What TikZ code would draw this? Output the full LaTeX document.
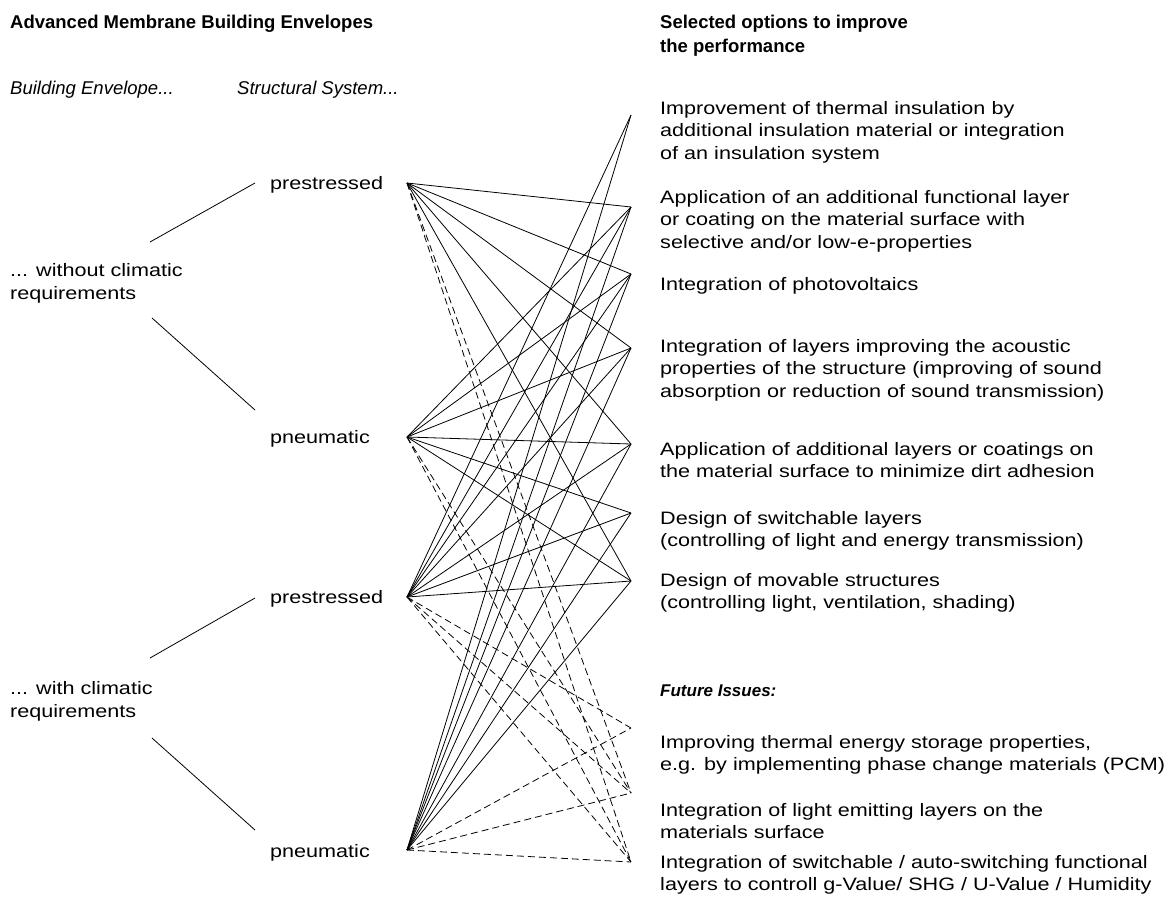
\documentclass[tikz,border=0pt]{standalone}
\usepackage{fontspec}
\setmainfont{Liberation Sans}
\newfontfamily\widefont[FakeStretch=1.2]{Liberation Sans}
\begin{document}
\begin{tikzpicture}[x=1pt,y=-1pt,
		txt/.style={anchor=base west,inner sep=0pt,align=left,font=\widefont\fontsize{18}{22.7}\selectfont},
		head/.style={txt,font=\fontsize{18.5}{24}\selectfont\bfseries},
		sub/.style={txt,font=\fontsize{18.5}{22.7}\selectfont\itshape},
		link/.style={line width=0.8pt},
		future/.style={line width=0.8pt,dash pattern=on 7pt off 4pt}]
		\useasboundingbox (0,0) rectangle (1172,897);
		
		% headings (base = last line)
		\node[head] (title) at (10,28) {Advanced Membrane Building Envelopes};
		\node[head] (sel) at (660,52) {Selected options to improve\\the performance};
		\node[sub] (env) at (10,94) {Building Envelope...};
		\node[sub] (sys) at (237,94) {Structural System...};
		
		% envelopes and structural systems
		\node[txt] (wo) at (10,299) {... without climatic\\requirements};
		\node[txt] (wi) at (10,717) {... with climatic\\requirements};
		\node[txt] (ps1) at (270,189) {prestressed};
		\node[txt] (pn1) at (270,443) {pneumatic};
		\node[txt] (ps2) at (270,603) {prestressed};
		\node[txt] (pn2) at (270,857) {pneumatic};
		
		\coordinate (wo1) at (150,242); \coordinate (wo2) at (152,318);
		\coordinate (wi1) at (150,658); \coordinate (wi2) at (152,738);
		\coordinate (to1) at (255,183); \coordinate (to2) at (255,410);
		\coordinate (to3) at (255,598); \coordinate (to4) at (255,830);
		\draw[link] (wo1) -- (to1);
		\draw[link] (wo2) -- (to2);
		\draw[link] (wi1) -- (to3);
		\draw[link] (wi2) -- (to4);
		
		% options
		\node[txt] (o1) at (660,159.4) {Improvement of thermal insulation by\\additional insulation material or integration\\of an insulation system};
		\node[txt] (o2) at (660,248.4) {Application of an additional functional layer\\or coating on the material surface with\\selective and/or low-e-properties};
		\node[txt] (o3) at (660,290) {Integration of photovoltaics};
		\node[txt] (o4) at (660,397.4) {Integration of layers improving the acoustic\\properties of the structure (improving of sound\\absorption or reduction of sound transmission)};
		\node[txt] (o5) at (660,477.7) {Application of additional layers or coatings on\\the material surface to minimize dirt adhesion};
		\node[txt] (o6) at (660,546.7) {Design of switchable layers\\(controlling of light and energy transmission)};
		\node[txt] (o7) at (660,608.7) {Design of movable structures\\(controlling light, ventilation, shading)};
		\node[txt,font=\fontsize{17}{22.7}\selectfont\bfseries\itshape] (fut) at (660,696) {Future Issues:};
		\node[txt] (f1) at (660,770.7) {Improving thermal energy storage properties,\\e.g. by implementing phase change materials (PCM)};
		\node[txt] (f2) at (660,838.7) {Integration of light emitting layers on the\\materials surface};
		\node[txt] (f3) at (660,890.7) {Integration of switchable / auto-switching functional\\layers to controll g-Value/ SHG / U-Value / Humidity};
		
		% end points
		\coordinate (a) at (407,183);
		\coordinate (b) at (407,437);
		\coordinate (c) at (407,597);
		\coordinate (d) at (407,850);
		\coordinate (r1) at (631,115);
		\coordinate (r2) at (631,207);
		\coordinate (r3) at (631,274);
		\coordinate (r4) at (631,348);
		\coordinate (r5) at (631,444);
		\coordinate (r6) at (631,513);
		\coordinate (r7) at (631,581);
		\coordinate (s1) at (631,728);
		\coordinate (s2) at (631,793);
		\coordinate (s3) at (631,862);
		
		\foreach \r in {r2,r3,r4,r5,r7} \draw[link] (a) -- (\r);
		\foreach \r in {r2,r3,r4,r5,r6,r7} \draw[link] (b) -- (\r);
		\foreach \r in {r1,r2,r3,r4,r5,r6,r7} {
			\draw[link] (c) -- (\r);
			\draw[link] (d) -- (\r);
		}
		\foreach \s in {s2,s3} {
			\draw[future] (a) -- (\s);
			\draw[future] (b) -- (\s);
		}
		\foreach \s in {s1,s2,s3} {
			\draw[future] (c) -- (\s);
			\draw[future] (d) -- (\s);
		}
\end{tikzpicture}
\end{document}
